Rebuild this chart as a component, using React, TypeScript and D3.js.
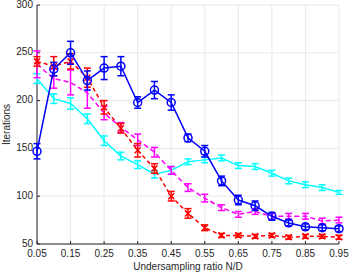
import React, { useEffect, useRef } from 'react';
import * as d3 from 'd3';

const ratios = [0.05, 0.1, 0.15, 0.2, 0.25, 0.3, 0.35, 0.4, 0.45, 0.5, 0.55, 0.6, 0.65, 0.7, 0.75, 0.8, 0.85, 0.9, 0.95];
const xTicks = [0.05, 0.15, 0.25, 0.35, 0.45, 0.55, 0.65, 0.75, 0.85, 0.95];
const yTicks = [50, 100, 150, 200, 250, 300];

const blueMean = [147, 233, 250, 221, 234, 236, 198, 211, 198, 161, 147, 116, 96, 90, 79, 72, 68, 67, 66];
const blueErr = [8, 7, 12, 10, 12, 10, 6, 9, 8, 4, 6, 5, 5, 5, 4, 3, 3, 3, 3];

const cyanMean = [223, 202, 197, 181, 158, 142, 133, 123, 127, 136, 138, 140, 132, 131, 124, 116, 112, 109, 104];
const cyanErr = [5, 5, 6, 5, 5, 4, 4, 4, 4, 3, 3, 3, 3, 3, 3, 3, 3, 3, 2];

const redMean = [241, 236, 241, 224, 193, 171, 148, 129, 100, 82, 67, 59, 59, 58, 59, 57, 58, 58, 57];
const redErr = [5, 10, 8, 10, 7, 5, 7, 5, 5, 5, 3, 2, 2, 2, 2, 2, 2, 2, 2];

const magentaMean = [238, 223, 219, 208, 187, 172, 159, 146, 127, 109, 98, 88, 81, 84, 79, 79, 79, 74, 75];
const magentaErr = [14, 10, 13, 16, 7, 5, 6, 5, 4, 4, 4, 3, 3, 3, 3, 3, 3, 3, 3];

const App: React.FC = () => {
  const svgRef = useRef<SVGSVGElement>(null);
  const width = 350;
  const height = 273;

  useEffect(() => {
    if (!svgRef.current) return;
    const svg = d3.select(svgRef.current);
    svg.selectAll('*').remove();

    const margin = { top: 5, right: 11, bottom: 29, left: 37 };
    const x = d3.scaleLinear().domain([0.05, 0.95]).range([margin.left, width - margin.right]);
    const y = d3.scaleLinear().domain([50, 300]).range([height - margin.bottom, margin.top]);
    const font = 'Liberation Sans, Arial, sans-serif';
    const axisColor = '#262626';

    // grid
    xTicks.forEach(t => {
      svg.append('line')
        .attr('x1', x(t)).attr('x2', x(t))
        .attr('y1', y(50)).attr('y2', y(300))
        .attr('stroke', '#e8e8e8').attr('stroke-width', 1);
    });
    yTicks.forEach(t => {
      svg.append('line')
        .attr('x1', x(0.05)).attr('x2', x(0.95))
        .attr('y1', y(t)).attr('y2', y(t))
        .attr('stroke', '#e8e8e8').attr('stroke-width', 1);
    });

    // axes
    svg.append('line')
      .attr('x1', x(0.05)).attr('x2', x(0.95))
      .attr('y1', y(50)).attr('y2', y(50))
      .attr('stroke', axisColor).attr('stroke-width', 1);
    svg.append('line')
      .attr('x1', x(0.05)).attr('x2', x(0.05))
      .attr('y1', y(50)).attr('y2', y(300))
      .attr('stroke', axisColor).attr('stroke-width', 1);

    xTicks.forEach(t => {
      svg.append('line')
        .attr('x1', x(t)).attr('x2', x(t))
        .attr('y1', y(50)).attr('y2', y(50) - 3)
        .attr('stroke', axisColor);
      svg.append('text')
        .attr('x', x(t)).attr('y', y(50) + 13)
        .attr('text-anchor', 'middle')
        .attr('font-family', font).attr('font-size', 10)
        .attr('fill', axisColor)
        .text(t.toFixed(2));
    });
    yTicks.forEach(t => {
      svg.append('line')
        .attr('x1', x(0.05)).attr('x2', x(0.05) + 3)
        .attr('y1', y(t)).attr('y2', y(t))
        .attr('stroke', axisColor);
      svg.append('text')
        .attr('x', x(0.05) - 4).attr('y', y(t))
        .attr('text-anchor', 'end')
        .attr('dominant-baseline', 'middle')
        .attr('font-family', font).attr('font-size', 10)
        .attr('fill', axisColor)
        .text(t);
    });

    svg.append('text')
      .attr('x', (x(0.05) + x(0.95)) / 2).attr('y', height - 3)
      .attr('text-anchor', 'middle')
      .attr('font-family', font).attr('font-size', 10)
      .attr('fill', axisColor)
      .text('Undersampling ratio N/D');
    svg.append('text')
      .attr('transform', `translate(10,${(y(50) + y(300)) / 2}) rotate(-90)`)
      .attr('text-anchor', 'middle')
      .attr('font-family', font).attr('font-size', 10)
      .attr('fill', axisColor)
      .text('Iterations');

    const line = d3.line<[number, number]>().x(d => x(d[0])).y(d => y(d[1]));

    const drawSeries = (means: number[], errs: number[], color: string, dash: string | null, marker: 'o' | 'x' | null) => {
      const pts = ratios.map((r, i) => [r, means[i]] as [number, number]);
      const g = svg.append('g');
      g.append('path')
        .attr('d', line(pts))
        .attr('fill', 'none')
        .attr('stroke', color)
        .attr('stroke-width', 1.5)
        .attr('stroke-dasharray', dash);
      pts.forEach(([r, m], i) => {
        const cx = x(r);
        const top = y(m + errs[i]);
        const bot = y(m - errs[i]);
        g.append('line').attr('x1', cx).attr('x2', cx).attr('y1', top).attr('y2', bot)
          .attr('stroke', color).attr('stroke-width', 1.5);
        [top, bot].forEach(yy => {
          g.append('line').attr('x1', cx - 3.5).attr('x2', cx + 3.5).attr('y1', yy).attr('y2', yy)
            .attr('stroke', color).attr('stroke-width', 1.5);
        });
        if (marker === 'o') {
          g.append('circle').attr('cx', cx).attr('cy', y(m)).attr('r', 4)
            .attr('fill', 'none').attr('stroke', color).attr('stroke-width', 1.5);
        } else if (marker === 'x') {
          const s = 3;
          g.append('path')
            .attr('d', `M${cx - s},${y(m) - s}L${cx + s},${y(m) + s}M${cx - s},${y(m) + s}L${cx + s},${y(m) - s}`)
            .attr('stroke', color).attr('stroke-width', 1.5);
        }
      });
    };

    drawSeries(cyanMean, cyanErr, '#00ffff', null, null);
    drawSeries(magentaMean, magentaErr, '#ff00ff', '5,3', null);
    drawSeries(redMean, redErr, '#ff0000', '4,3', 'x');
    drawSeries(blueMean, blueErr, '#0000ff', null, 'o');
  }, []);

  return (
    <svg
      ref={svgRef}
      width={width}
      height={height}
      style={{ position: 'absolute', left: 0, top: 0, background: '#fff' }}
    />
  );
};

export default App;
